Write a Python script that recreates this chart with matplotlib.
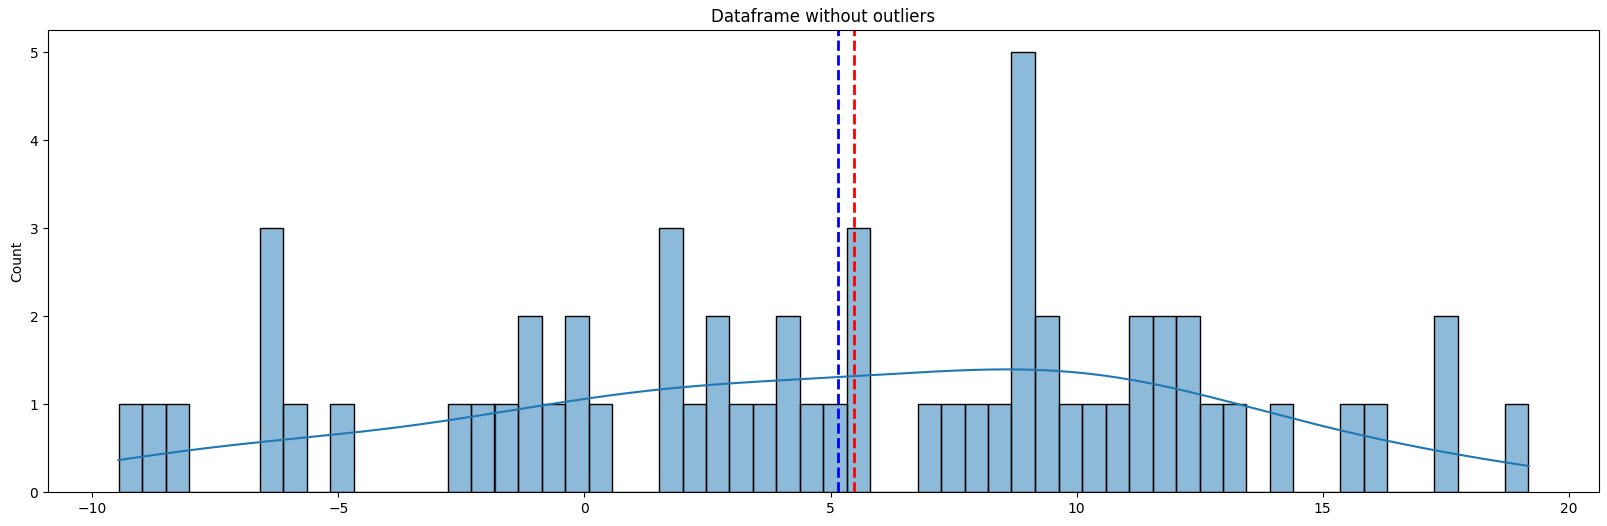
import numpy as np
import pandas as pd
import matplotlib
matplotlib.use("Agg")
import matplotlib.pyplot as plt
import seaborn as sns

# values (60 bins between the min and max of the data)
values = [
    -9.465, -8.80, -8.32,
    -6.40, -6.40, -6.40, -5.92,
    -4.97,
    -2.58, -2.10, -1.63, -1.15, -1.15, -0.67, -0.19, -0.19, 0.30,
    1.72, 1.72, 1.72, 2.20, 2.67, 2.67, 3.15, 3.63, 4.11, 4.11, 4.58, 5.06,
    5.42, 5.52, 5.70,
    6.96, 7.44, 7.92, 8.40,
    8.87, 8.87, 8.87, 8.87, 8.87,
    9.35, 9.35, 9.83, 10.31, 10.78, 11.26, 11.26, 11.74, 11.74, 12.21, 12.21,
    12.69, 13.17,
    14.13, 15.56, 16.04, 17.46, 17.46, 19.18,
]

df = pd.DataFrame({"value": values})

fig = plt.figure(figsize=(16.08, 5.26), dpi=100)
ax = sns.histplot(data=df, x="value", bins=60, kde=True)
ax.axvline(df["value"].mean(), color="blue", linestyle="--", linewidth=2)
ax.axvline(df["value"].median(), color="red", linestyle="--", linewidth=2)
ax.set_xlabel("")
ax.set_title("Dataframe without outliers")
plt.subplots_adjust(left=48/1608, right=1599/1608, top=1-30/526, bottom=1-492/526)
plt.savefig("out.png", dpi=100)
